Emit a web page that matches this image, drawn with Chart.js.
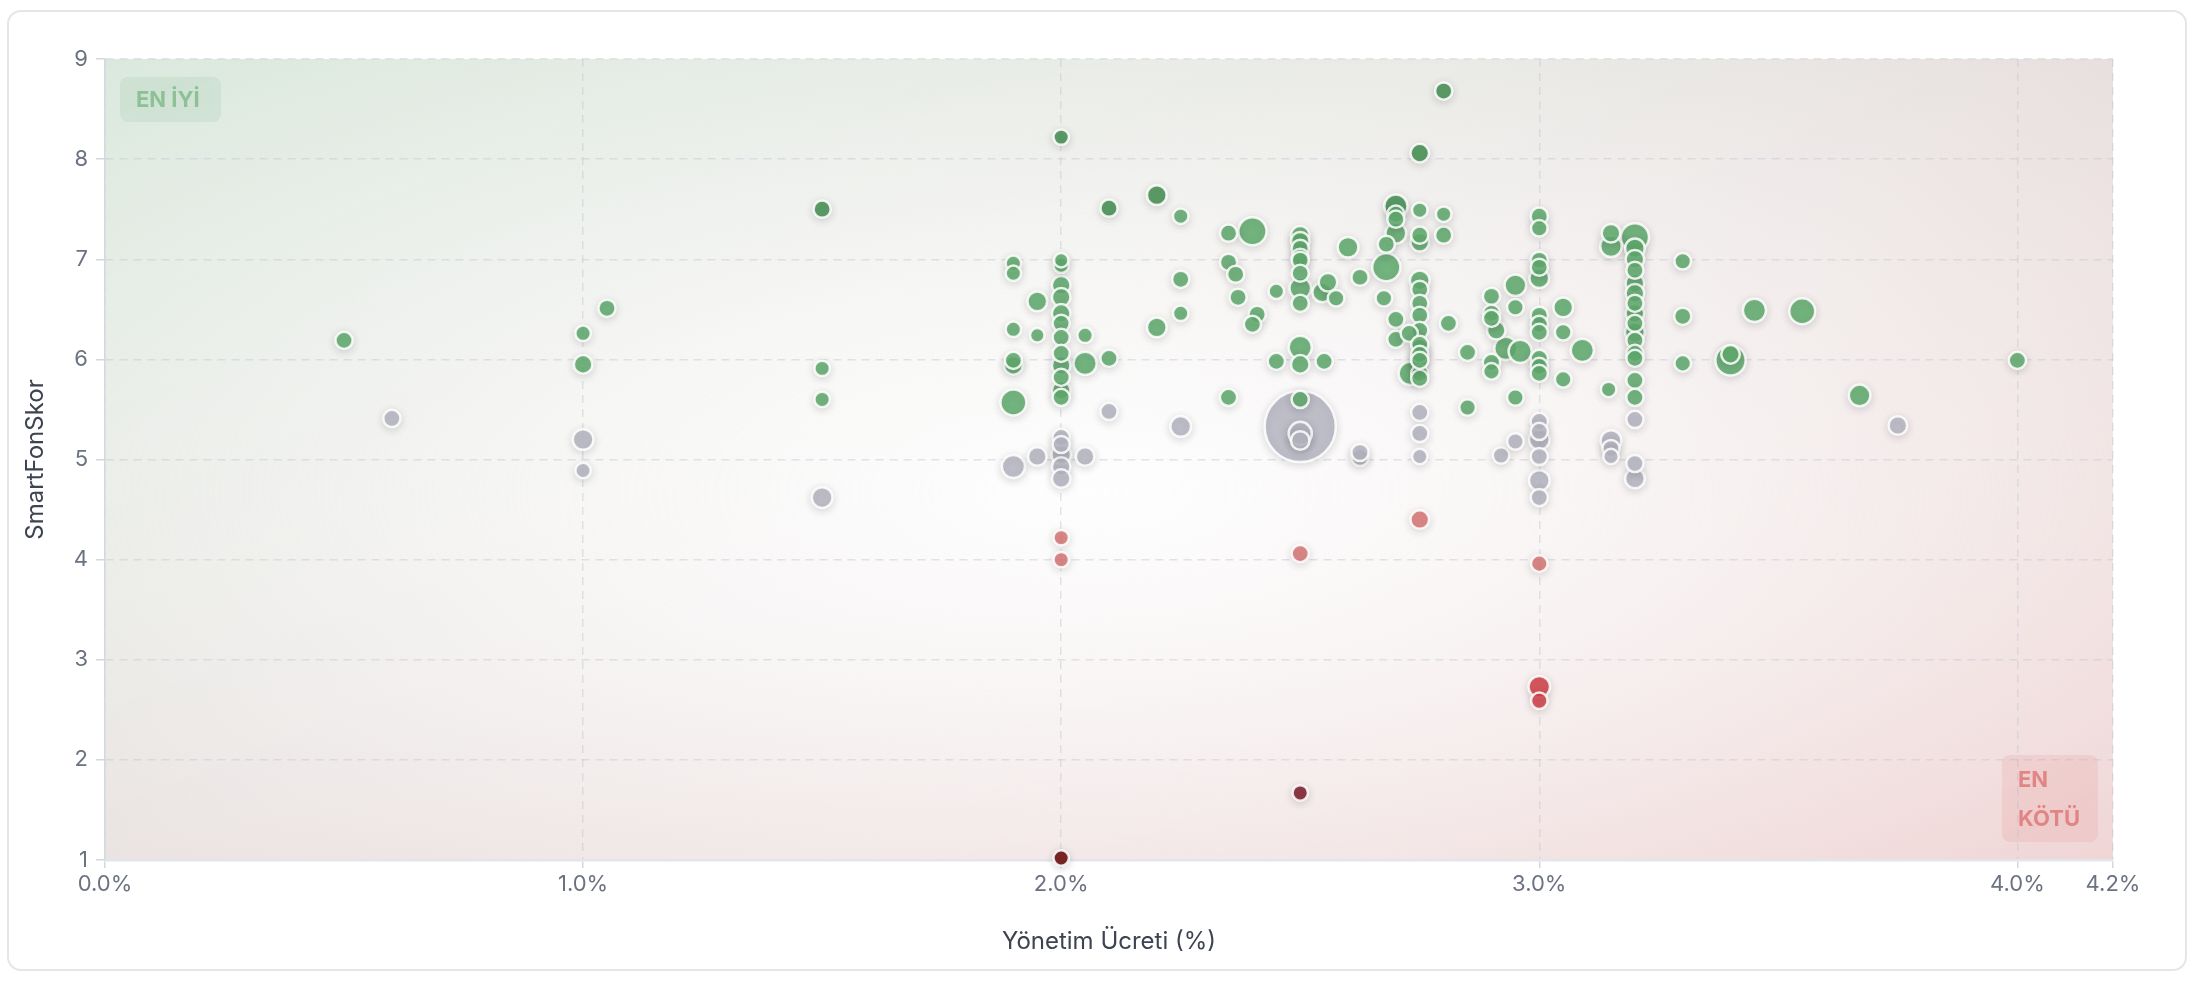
<!DOCTYPE html>
<html lang="tr">
<head>
<meta charset="utf-8">
<title>SmartFonSkor / Yönetim Ücreti</title>
<script src="https://cdn.jsdelivr.net/npm/chart.js@4.4.1/dist/chart.umd.min.js"></script>
<style>
    html, body { margin: 0; padding: 0; background: #fff; width: 2194px; height: 982px; overflow: hidden; }
    .card { position: absolute; left: 7px; top: 10px; width: 2176px; height: 957px; border: 2px solid #e3e6ea; border-radius: 14px; background: #fff; }
    .wrap { position: absolute; left: 0; top: 0; width: 2194px; height: 982px; }
</style>
</head>
<body>
<div class="card"></div>
<div class="wrap"><canvas id="feeChart"></canvas></div>
<script>
// Fund data: management fee (%), SmartFonSkor, fund size (relative)
const yonetimUcreti = [
    0.50, 0.60, 1.00, 1.00, 1.00, 1.00, 1.05, 1.50, 1.50, 1.50, 1.50,
    1.90, 1.90, 1.95, 1.90, 1.95, 1.90, 1.90, 1.90,
    2.00, 2.00, 2.00, 2.00, 2.00, 2.00, 2.00, 2.00, 2.00, 2.00, 2.00, 2.00,
    2.05, 2.05, 2.10, 2.20, 2.10,
    1.90, 1.95, 2.00, 2.00, 2.00, 2.00, 2.00, 2.05,
    2.00, 2.00, 2.00, 2.00,
    2.10, 2.20, 2.25, 2.35, 2.40, 2.35, 2.365, 2.25, 2.37, 2.41, 2.40, 2.25, 2.45, 2.35, 2.25,
    2.45, 2.50, 2.50, 2.55,
    2.50, 2.50, 2.50, 2.50, 2.50, 2.50, 2.50, 2.50,
    2.558, 2.546, 2.575, 2.60, 2.625, 2.68, 2.675, 2.68, 2.70, 2.70, 2.70, 2.70,
    2.75, 2.80, 2.75, 2.75, 2.80,
    2.75, 2.75, 2.75, 2.75, 2.75, 2.75, 2.75, 2.75, 2.75,
    2.70, 2.70, 2.728, 2.81, 2.85, 2.85, 2.73,
    2.75, 2.75, 2.75, 2.625, 2.625,
    2.50, 2.50, 2.50, 2.50, 2.50, 2.75,
    2.80, 2.75,
    3.00, 3.00, 3.15, 3.15,
    3.20, 3.20, 3.20, 3.20, 3.20, 3.20, 3.20, 3.20, 3.20, 3.20, 3.20, 3.20,
    3.30, 3.30, 3.45,
    3.00, 3.00, 3.00, 2.95, 2.90, 2.90, 2.90, 2.91, 2.95,
    3.00, 3.00, 3.00, 3.05, 3.05, 2.75, 2.75,
    3.09, 2.93, 2.96, 3.40, 3.40, 3.30,
    3.20, 3.20, 3.20, 3.20, 3.20, 3.20,
    3.145, 3.05, 2.95, 2.90, 2.90, 3.00, 3.00, 3.00, 2.75,
    2.92, 2.95,
    3.00, 3.00, 3.00, 3.00, 3.00, 3.00,
    3.15, 3.15, 3.15,
    3.00, 3.00, 3.00, 2.50,
    3.55, 3.67, 3.75, 4.00
];
const smartFonSkor = [
    6.19, 5.41, 6.26, 5.95, 5.20, 4.89, 6.51, 7.50, 5.91, 5.60, 4.62,
    6.96, 6.86, 6.58, 6.30, 6.24, 5.99, 5.94, 5.57,
    6.99, 6.94, 6.74, 6.62, 6.46, 6.36, 6.22, 6.06, 5.94, 5.82, 5.69, 5.62,
    6.24, 5.96, 6.01, 6.32, 5.48,
    4.93, 5.03, 5.22, 5.15, 5.05, 4.93, 4.81, 5.03,
    4.22, 4.00, 1.02, 8.22,
    7.51, 7.64, 7.43, 7.26, 7.28, 6.97, 6.85, 6.80, 6.62, 6.45, 6.35, 6.46, 6.68, 5.62, 5.33,
    5.98, 6.12, 5.95, 5.98,
    7.24, 7.18, 7.11, 7.02, 6.99, 6.86, 6.71, 6.56,
    6.77, 6.67, 6.61, 7.12, 6.82, 6.92, 6.61, 7.15, 7.26, 7.53, 7.45, 7.40,
    7.49, 7.45, 7.24, 7.17, 7.24,
    6.79, 6.70, 6.56, 6.44, 6.29, 6.12, 6.01, 5.86, 5.81,
    6.40, 6.20, 6.26, 6.36, 6.07, 5.52, 5.86,
    5.47, 5.26, 5.03, 5.02, 5.07,
    5.33, 5.26, 5.19, 5.60, 4.06, 4.40,
    8.68, 8.06,
    7.43, 7.31, 7.26, 7.13,
    7.22, 7.11, 7.00, 6.89, 6.76, 6.66, 6.56, 6.46, 6.36, 6.27, 6.19, 6.06,
    6.98, 6.43, 6.49,
    6.99, 6.92, 6.81, 6.74, 6.63, 6.46, 6.41, 6.29, 6.52,
    6.44, 6.35, 6.27, 6.52, 6.27, 6.15, 6.05,
    6.09, 6.11, 6.08, 5.99, 6.05, 5.96,
    6.01, 5.79, 5.62, 5.40, 4.96, 4.81,
    5.70, 5.80, 5.62, 5.97, 5.88, 6.01, 5.93, 5.86, 5.99,
    5.04, 5.18,
    5.38, 5.28, 5.20, 5.03, 4.79, 4.62,
    5.19, 5.11, 5.03,
    3.96, 2.73, 2.59, 1.67,
    6.48, 5.64, 5.34, 5.99
];
const fonBuyuklugu = [
    1, 1, 0.5, 1.5, 2.5, 0.5, 1, 1, 0.5, 0.5, 2.5,
    0.5, 0.5, 2, 0.5, 0.3, 1, 1.5, 6,
    0.3, 0.5, 1.5, 1.5, 1.5, 1, 1, 1, 1.5, 1, 1.5, 1,
    0.5, 4, 1, 2, 1,
    4, 1.5, 1, 1, 2, 1.5, 1.5, 1.5,
    0.5, 0.5, 0.5, 0.5,
    1, 2, 0.5, 1, 8, 1, 1, 1, 1, 1, 1, 0.5, 0.5, 1, 2.5,
    1, 4, 1.5, 1,
    1.5, 1.5, 1, 1, 1, 1, 3, 1,
    1.5, 2, 0.8, 2.5, 1, 8, 0.8, 1, 2.5, 4, 1, 1,
    0.5, 0.5, 1, 1.5, 1,
    2, 1, 1, 1, 1, 1, 1.5, 1, 1,
    1, 1, 1, 1, 1, 0.8, 4,
    1, 1, 0.5, 1, 1,
    100, 4, 1.5, 1, 1, 1.5,
    1, 1.5,
    1, 0.8, 1.5, 3,
    8, 2, 1.5, 1, 1.5, 1.5, 1, 1.5, 1, 2, 1, 1,
    0.8, 1, 4,
    1, 1, 2, 3, 1, 1, 1, 1.5, 0.8,
    1, 1, 1, 2, 0.8, 1, 1,
    4, 4, 4, 10, 1.5, 0.8,
    1, 1, 1, 1, 1, 2,
    0.5, 0.8, 0.8, 1, 0.8, 1, 1, 1, 1,
    0.8, 0.8,
    1, 1, 2.5, 1, 2.5, 1,
    2.5, 1, 0.5,
    0.8, 3, 0.8, 0.5,
    6, 3, 1.5, 1
];

const xTickValues = [0, 1, 2, 3, 4, 4.2];
const yTickValues = [1, 2, 3, 4, 5, 6, 7, 8, 9];

// Bubble radius from fund size
function bubbleRadius(size) {
    return 5.6 + 3 * Math.sqrt(size);
}

// Point colour by score band
function scoreColor(score) {
    if (score >= 7.5) return 'rgba(78, 150, 90, 0.9)';
    if (score >= 5.5) return 'rgba(98, 174, 112, 0.86)';
    if (score >= 4.5) return 'rgba(184, 184, 198, 0.85)';
    if (score >= 3.5) return 'rgba(218, 112, 112, 0.8)';
    if (score >= 2) return 'rgba(212, 66, 72, 0.85)';
    if (score >= 1.5) return 'rgba(135, 45, 55, 0.92)';
    return 'rgba(118, 28, 28, 0.95)';
}

// Build points, big ones first so small bubbles stay visible
const points = yonetimUcreti.map((x, i) => ({ x, y: smartFonSkor[i], size: fonBuyuklugu[i] }))
    .sort((a, b) => b.size - a.size);

// Green to red quadrant background with a soft white centre
const zoneBackground = {
    id: 'zoneBackground',
    beforeDraw(chart) {
        const { ctx, chartArea: a } = chart;
        const w = a.right - a.left, h = a.bottom - a.top;
        ctx.save();
        ctx.translate(a.left, a.top);
        ctx.scale(w, h);
        const lin = ctx.createLinearGradient(0, 0, 1, 1);
        lin.addColorStop(0, 'rgba(80, 150, 95, 0.22)');
        lin.addColorStop(0.5, 'rgba(160, 130, 125, 0.25)');
        lin.addColorStop(1, 'rgba(190, 70, 70, 0.25)');
        ctx.fillStyle = lin;
        ctx.fillRect(0, 0, 1, 1);
        const rad = ctx.createRadialGradient(0.49, 0.54, 0, 0.49, 0.54, 0.75);
        rad.addColorStop(0, 'rgba(255, 255, 255, 0.97)');
        rad.addColorStop(0.35, 'rgba(255, 255, 255, 0.7)');
        rad.addColorStop(1, 'rgba(255, 255, 255, 0)');
        ctx.fillStyle = rad;
        ctx.fillRect(0, 0, 1, 1);
        ctx.restore();
    }
};

// "EN İYİ" / "EN KÖTÜ" corner tags
const zoneLabels = {
    id: 'zoneLabels',
    beforeDatasetsDraw(chart) {
        const { ctx, chartArea: a } = chart;
        ctx.save();
        ctx.font = '700 22px Inter';
        ctx.textBaseline = 'middle';
        ctx.textAlign = 'left';

        ctx.fillStyle = 'rgba(80, 160, 95, 0.10)';
        ctx.beginPath();
        ctx.roundRect(a.left + 15, a.top + 18, 101, 45, 8);
        ctx.fill();
        ctx.fillStyle = 'rgba(76, 160, 90, 0.5)';
        ctx.fillText('EN İYİ', a.left + 31, a.top + 41);

        ctx.fillStyle = 'rgba(215, 80, 80, 0.10)';
        ctx.beginPath();
        ctx.roundRect(a.right - 111, a.bottom - 105, 96, 87, 8);
        ctx.fill();
        ctx.fillStyle = 'rgba(215, 85, 85, 0.6)';
        ctx.fillText('EN', a.right - 95, a.bottom - 80);
        ctx.fillText('KÖTÜ', a.right - 95, a.bottom - 41);
        ctx.restore();
    }
};

// Soft drop shadow under bubbles
const pointShadow = {
    id: 'pointShadow',
    beforeDatasetsDraw(chart) {
        const c = chart.ctx;
        c.save();
        c.shadowColor = 'rgba(0, 0, 0, 0.16)';
        c.shadowBlur = 8;
        c.shadowOffsetY = 2;
    },
    afterDatasetsDraw(chart) {
        chart.ctx.restore();
    }
};

const tickColor = '#6b7280';
const gridColor = 'rgba(190, 198, 210, 0.45)';

new Chart(document.getElementById('feeChart'), {
    type: 'bubble',
    data: {
        datasets: [{
            label: 'Fonlar',
            data: points,
            radius: c => bubbleRadius(c.raw.size),
            backgroundColor: c => scoreColor(c.raw.y),
            borderColor: 'rgba(255, 255, 255, 0.85)',
            borderWidth: 2.5,
            clip: false
        }]
    },
    options: {
        responsive: true,
        maintainAspectRatio: false,
        animation: false,
        events: [],
        layout: { padding: { top: 59, right: 81, left: 0, bottom: 0 } },
        scales: {
            x: {
                type: 'linear',
                min: 0,
                max: 4.2,
                afterBuildTicks: s => { s.ticks = xTickValues.map(v => ({ value: v })); },
                afterFit: s => { s.height = 122; },
                ticks: {
                    color: tickColor,
                    font: { family: 'Inter', size: 22 },
                    padding: 3,
                    callback: v => v.toFixed(1) + '%'
                },
                grid: { color: gridColor, lineWidth: 1.5, tickLength: 8, tickColor: 'rgba(200, 206, 216, 0.8)', tickBorderDash: [0, 0] },
                border: { color: '#e2e6ec', width: 2.5, dash: [8, 6] },
                title: {
                    display: true,
                    text: 'Yönetim Ücreti (%)',
                    color: '#3d4350',
                    font: { family: 'Inter', size: 24 },
                    padding: { top: 0, bottom: 26 }
                }
            },
            y: {
                type: 'linear',
                min: 1,
                max: 9,
                afterBuildTicks: s => { s.ticks = yTickValues.map(v => ({ value: v })); },
                afterFit: s => { s.width = 105; },
                ticks: {
                    color: tickColor,
                    font: { family: 'Inter', size: 22 },
                    padding: 8
                },
                grid: { color: gridColor, lineWidth: 1.5, tickLength: 9, tickColor: 'rgba(200, 206, 216, 0.8)', tickBorderDash: [0, 0] },
                border: { color: '#d3d9de', width: 1.5, dash: [8, 6] },
                title: {
                    display: true,
                    text: 'SmartFonSkor',
                    color: '#3d4350',
                    font: { family: 'Inter', size: 24 },
                    padding: { top: 21, bottom: 0 }
                }
            }
        },
        plugins: {
            legend: { display: false },
            tooltip: { enabled: false }
        }
    },
    plugins: [zoneBackground, zoneLabels, pointShadow]
});
</script>
</body>
</html>
